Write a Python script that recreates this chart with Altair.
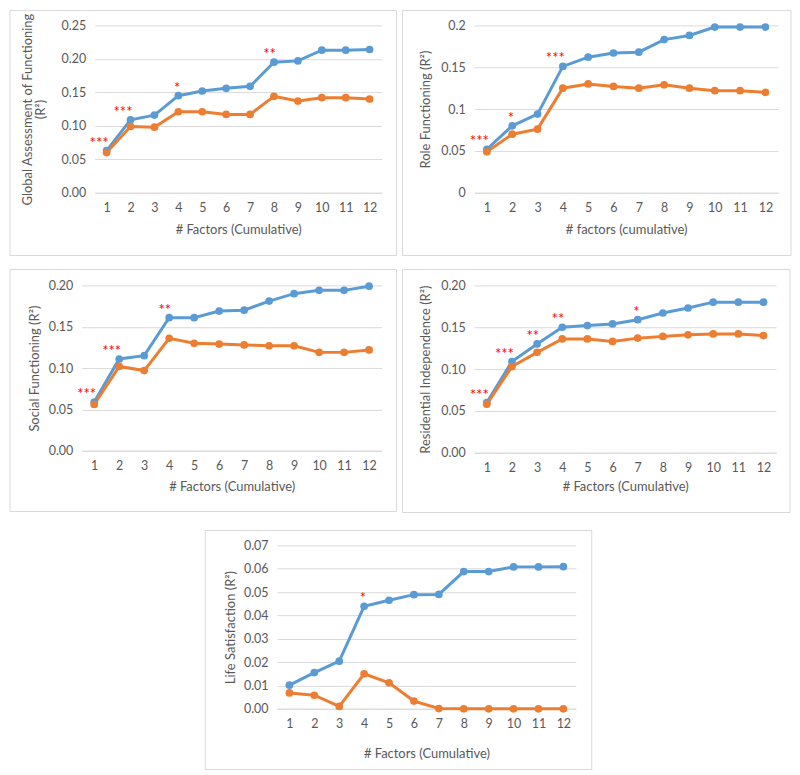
import altair as alt
import pandas as pd

factors = list(range(1, 13))

# Global Assessment of Functioning
gaf_blue = [0.063, 0.109, 0.116, 0.145, 0.152, 0.156, 0.159, 0.195, 0.197, 0.213, 0.213, 0.214]
gaf_orange = [0.060, 0.099, 0.098, 0.121, 0.121, 0.117, 0.117, 0.144, 0.137, 0.142, 0.142, 0.140]
gaf_ann_factor = [1, 2, 4, 8]
gaf_ann_label = ["***", "***", "*", "**"]

# Role Functioning
role_blue = [0.052, 0.080, 0.094, 0.151, 0.162, 0.167, 0.168, 0.183, 0.188, 0.198, 0.198, 0.198]
role_orange = [0.049, 0.070, 0.076, 0.125, 0.130, 0.127, 0.125, 0.129, 0.125, 0.122, 0.122, 0.120]
role_ann_factor = [1, 2, 4]
role_ann_label = ["***", "*", "***"]

# Social Functioning
soc_blue = [0.059, 0.111, 0.115, 0.161, 0.161, 0.169, 0.170, 0.181, 0.190, 0.194, 0.194, 0.199]
soc_orange = [0.056, 0.102, 0.097, 0.136, 0.130, 0.129, 0.128, 0.127, 0.127, 0.119, 0.119, 0.122]
soc_ann_factor = [1, 2, 4]
soc_ann_label = ["***", "***", "**"]

# Residential Independence
res_blue = [0.060, 0.109, 0.130, 0.150, 0.152, 0.154, 0.159, 0.167, 0.173, 0.180, 0.180, 0.180]
res_orange = [0.058, 0.103, 0.120, 0.136, 0.136, 0.133, 0.137, 0.139, 0.141, 0.142, 0.142, 0.140]
res_ann_factor = [1, 2, 3, 4, 7]
res_ann_label = ["***", "***", "**", "**", "*"]

# Life Satisfaction
life_blue = [0.0101, 0.0155, 0.0204, 0.0439, 0.0465, 0.0489, 0.0490, 0.0588, 0.0588, 0.0608, 0.0608, 0.0609]
life_orange = [0.0068, 0.0058, 0.0010, 0.0150, 0.0111, 0.0033, 0.0001, 0.0, 0.0, 0.0, 0.0, 0.0]
life_ann_factor = [4]
life_ann_label = ["*"]

ticks_025 = [0, 0.05, 0.10, 0.15, 0.20, 0.25]
ticks_020 = [0, 0.05, 0.10, 0.15, 0.20]
ticks_007 = [0, 0.01, 0.02, 0.03, 0.04, 0.05, 0.06, 0.07]

series_names = ["Series 1", "Series 2"]
BLUE = "#5B9BD5"
ORANGE = "#ED7D31"
GRID = "#D9D9D9"
TXT = "#595959"


def panel(blue, orange, ann_f, ann_l, ytitle, xtitle, ymax, yticks, yfmt,
          w, h, left, right, top, bottom, gap, ypad, xpad):
    df = pd.DataFrame({
        "factor": factors * 2,
        "value": blue + orange,
        "series": [series_names[0]] * 12 + [series_names[1]] * 12,
    })
    ann_df = pd.DataFrame({
        "factor": ann_f,
        "label": ann_l,
        "value": [blue[f - 1] for f in ann_f],
    })
    x = alt.X("factor:O", axis=alt.Axis(
        title=xtitle, labelAngle=0, grid=False, ticks=False, tickSize=0,
        domainColor=GRID, domainWidth=1, labelPadding=9, titlePadding=xpad))
    y = alt.Y("value:Q", scale=alt.Scale(domain=[0, ymax], nice=False),
              axis=alt.Axis(title=ytitle, values=yticks, format=yfmt, grid=True,
                            gridColor=GRID, domain=False, ticks=False, tickSize=0,
                            labelPadding=9, titlePadding=ypad, titleLineHeight=13))
    color = alt.Color("series:N", scale=alt.Scale(domain=series_names, range=[BLUE, ORANGE]),
                      legend=None)
    one = pd.DataFrame({"b": [0]})
    extent = alt.Chart(one).mark_rect(opacity=0).encode(
        x=alt.value(-left), x2=alt.value(w + right + gap),
        y=alt.value(-top), y2=alt.value(h + bottom))
    border = alt.Chart(one).mark_rect(
        fillOpacity=0, stroke=GRID, strokeWidth=1
    ).encode(x=alt.value(-left), x2=alt.value(w + right),
             y=alt.value(-top), y2=alt.value(h + bottom))
    base = alt.Chart(df)
    line = base.mark_line(strokeWidth=3).encode(x=x, y=y, color=color)
    pts = base.mark_circle(size=60, opacity=1).encode(x=x, y=y, color=color)
    text = alt.Chart(ann_df).mark_text(
        color="#FF0000", fontSize=15, align="right", baseline="bottom", dx=2, dy=0
    ).encode(x=x, y=y, text="label:N")
    return alt.layer(extent, border, line, pts, text).properties(width=w, height=h)


def spacer(w):
    return alt.Chart(pd.DataFrame({"s": [0]})).mark_rect(opacity=0).encode(
        x=alt.value(0), x2=alt.value(w), y=alt.value(0), y2=alt.value(1)
    ).properties(width=w, height=1)


p1 = panel(gaf_blue, gaf_orange, gaf_ann_factor, gaf_ann_label,
           ["Global Assessment of Functioning", "(R²)"], "# Factors (Cumulative)",
           0.25, ticks_025, ".2f", 288, 168, 85, 15, 15, 63, 5, 14, 9)
p2 = panel(role_blue, role_orange, role_ann_factor, role_ann_label,
           "Role Functioning (R²)", "# factors (cumulative)",
           0.2, ticks_020, ".2~f", 305, 168, 72, 13, 15, 63, 0, 8, 9)
p3 = panel(soc_blue, soc_orange, soc_ann_factor, soc_ann_label,
           "Social Functioning (R²)", "# Factors (Cumulative)",
           0.2, ticks_020, ".2f", 301, 166, 72, 15, 16, 61, 5, 7, 8)
p4 = panel(res_blue, res_orange, res_ann_factor, res_ann_label,
           "Residential Independence (R²)", "# Factors (Cumulative)",
           0.2, ticks_020, ".2f", 303, 168, 72, 14, 16, 60, 0, 8, 6)
p5 = panel(life_blue, life_orange, life_ann_factor, life_ann_label,
           "Life Satisfaction (R²)", "# Factors (Cumulative)",
           0.07, ticks_007, ".2f", 300, 164, 72, 16, 15, 61, 0, 6, 17)

row1 = alt.hconcat(spacer(1), p1, p2, spacing=0)
row2 = alt.hconcat(spacer(1), p3, p4, spacing=0)
row3 = alt.hconcat(spacer(197), p5, spacing=0)
top_block = alt.vconcat(row1, row2, spacing=12)
chart = alt.vconcat(top_block, row3, spacing=16).properties(
    padding=0, background="white"
).configure_view(strokeWidth=0).configure_axis(
    labelFont="Lato", titleFont="Lato", labelFontSize=12.5, titleFontSize=13,
    labelColor=TXT, titleColor=TXT, titleFontWeight="normal"
).configure_text(font="Lato")

chart.save("out.html", embed_options={"renderer": "svg", "actions": False})
